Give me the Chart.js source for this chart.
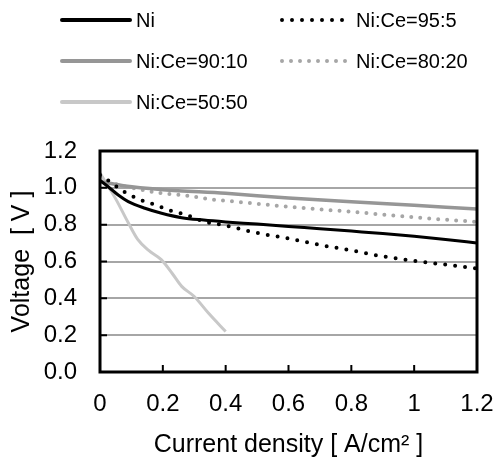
<!DOCTYPE html>
<html>
<head>
  <meta charset="UTF-8">
  <title>Voltage vs current density</title>
  <script src="https://cdn.jsdelivr.net/npm/chart.js"></script>
  <style>
    html, body { margin: 0; padding: 0; background: #fff; }
    #wrap { width: 496px; height: 459px; }
  </style>
</head>
<body>
  <div id="wrap"><canvas id="iv"></canvas></div>
  <script>
    const seriesNames = ["Ni", "Ni:Ce=95:5", "Ni:Ce=90:10", "Ni:Ce=80:20", "Ni:Ce=50:50"];

    const niX = [0, 0.026, 0.058, 0.09, 0.143, 0.196, 0.26, 0.33, 0.4, 0.5, 0.6, 0.7, 0.8, 0.9, 1.0, 1.1, 1.2];
    const niY = [1.04, 1.006, 0.961, 0.925, 0.889, 0.862, 0.838, 0.825, 0.815, 0.803, 0.79, 0.778, 0.765, 0.752, 0.737, 0.72, 0.70];

    const ce95X = [0, 0.026, 0.08, 0.111, 0.143, 0.172, 0.204, 0.236, 0.267, 0.33, 0.4, 0.5, 0.6, 0.7, 0.8, 0.9, 1.0, 1.1, 1.2];
    const ce95Y = [1.07, 1.04, 0.975, 0.948, 0.925, 0.91, 0.889, 0.87, 0.858, 0.818, 0.795, 0.755, 0.725, 0.69, 0.66, 0.628, 0.603, 0.583, 0.562];

    const ce90X = [0, 0.08, 0.2, 0.4, 0.6, 0.8, 1.0, 1.2];
    const ce90Y = [1.035, 1.01, 0.99, 0.97, 0.945, 0.925, 0.905, 0.885];

    const ce80X = [0, 0.05, 0.1, 0.2, 0.26, 0.37, 0.4, 0.6, 0.8, 1.0, 1.2];
    const ce80Y = [1.06, 1.02, 1.0, 0.97, 0.961, 0.934, 0.93, 0.897, 0.87, 0.84, 0.815];

    const ce50X = [0, 0.05, 0.09, 0.12, 0.155, 0.195, 0.23, 0.26, 0.3, 0.345, 0.4];
    const ce50Y = [1.08, 0.94, 0.81, 0.72, 0.66, 0.61, 0.535, 0.465, 0.41, 0.32, 0.22];

    const xTicks = [0, 0.2, 0.4, 0.6, 0.8, 1, 1.2];
    const yTicks = [0, 0.2, 0.4, 0.6, 0.8, 1.0, 1.2];

    const pts = (xs, ys) => xs.map((x, i) => ({ x: x, y: ys[i] }));

    const styles = [
      { borderColor: "#000000", borderWidth: 3, borderDash: [] },
      { borderColor: "#000000", borderWidth: 4, borderDash: [0, 10], borderCapStyle: "round" },
      { borderColor: "#969696", borderWidth: 3.5, borderDash: [] },
      { borderColor: "#a6a6a6", borderWidth: 4, borderDash: [0, 9], borderCapStyle: "round" },
      { borderColor: "#c8c8c8", borderWidth: 3, borderDash: [] }
    ];
    const seriesData = [pts(niX, niY), pts(ce95X, ce95Y), pts(ce90X, ce90Y), pts(ce80X, ce80Y), pts(ce50X, ce50Y)];

    // legend drawn in two columns above the plot
    const legendPlugin = {
      id: "topLegend",
      afterDraw(chart) {
        const ctx = chart.ctx;
        const cols = [62, 282];
        const rows = [20, 61, 102];
        ctx.save();
        ctx.font = "20px Arial, 'Liberation Sans', sans-serif";
        ctx.textBaseline = "middle";
        ctx.fillStyle = "#000";
        chart.data.datasets.forEach((ds, i) => {
          const x = cols[i % 2], y = rows[Math.floor(i / 2)];
          ctx.strokeStyle = ds.borderColor;
          ctx.lineWidth = 4;
          ctx.lineCap = "round";
          ctx.setLineDash(ds.borderDash);
          ctx.beginPath();
          ctx.moveTo(x, y);
          ctx.lineTo(x + 68, y);
          ctx.stroke();
          ctx.setLineDash([]);
          ctx.fillText(ds.label, x + 74, y + 1);
        });
        ctx.restore();
      }
    };

    // box frame and inward tick marks
    const framePlugin = {
      id: "frame",
      afterDatasetsDraw(chart) {
        const { ctx, chartArea: a, scales } = chart;
        ctx.save();
        ctx.strokeStyle = "#000";
        ctx.lineWidth = 3;
        ctx.beginPath();
        ctx.rect(a.left, a.top, a.right - a.left, a.bottom - a.top);
        ctx.stroke();
        ctx.lineWidth = 2;
        ctx.beginPath();
        yTicks.slice(1, -1).forEach(v => {
          const y = scales.y.getPixelForValue(v);
          ctx.moveTo(a.left, y);
          ctx.lineTo(a.left + 7, y);
        });
        xTicks.slice(1, -1).forEach(v => {
          const x = scales.x.getPixelForValue(v);
          ctx.moveTo(x, a.bottom);
          ctx.lineTo(x, a.bottom - 7);
        });
        ctx.stroke();
        ctx.restore();
      }
    };

    const fontFamily = "Arial, 'Liberation Sans', sans-serif";
    const tickFont = { family: fontFamily, size: 24 };

    new Chart(document.getElementById("iv"), {
      type: "line",
      data: {
        datasets: seriesNames.map((name, i) => Object.assign({
          label: name,
          data: seriesData[i],
          pointRadius: 0,
          cubicInterpolationMode: "monotone",
          fill: false
        }, styles[i]))
      },
      options: {
        responsive: true,
        maintainAspectRatio: false,
        animation: false,
        layout: { padding: { top: 151, right: 19, bottom: 0, left: 0 } },
        plugins: { legend: { display: false }, tooltip: { enabled: false } },
        scales: {
          x: {
            type: "linear",
            min: 0,
            max: 1.2,
            afterBuildTicks: s => { s.ticks = xTicks.map(v => ({ value: v })); },
            afterFit: s => { s.height = 87; s.paddingLeft = 0; s.paddingRight = 0; },
            grid: { display: false, drawTicks: false },
            border: { display: false },
            ticks: {
              color: "#000",
              font: tickFont,
              padding: 18,
              maxRotation: 0,
              callback: v => String(v)
            },
            title: {
              display: true,
              text: "Current density [ A/cm\u00b2 ]",
              color: "#000",
              font: { family: fontFamily, size: 25, lineHeight: 1 },
              padding: { top: 0, bottom: 1 }
            }
          },
          y: {
            type: "linear",
            min: 0,
            max: 1.2,
            afterBuildTicks: s => { s.ticks = yTicks.map(v => ({ value: v })); },
            afterFit: s => { s.width = 100; },
            grid: {
              color: (c) => (c.tick && (c.tick.value === 0 || c.tick.value === 1.2)) ? "rgba(0,0,0,0)" : "#a6a6a6",
              lineWidth: 2,
              drawTicks: false
            },
            border: { display: false },
            ticks: {
              color: "#000",
              font: tickFont,
              padding: 23,
              callback: v => v.toFixed(1)
            },
            title: {
              display: true,
              text: "Voltage  [ V ]",
              color: "#000",
              font: { family: fontFamily, size: 25, lineHeight: 1 },
              padding: { top: 10, bottom: 0 }
            }
          }
        }
      },
      plugins: [legendPlugin, framePlugin]
    });
  </script>
</body>
</html>
